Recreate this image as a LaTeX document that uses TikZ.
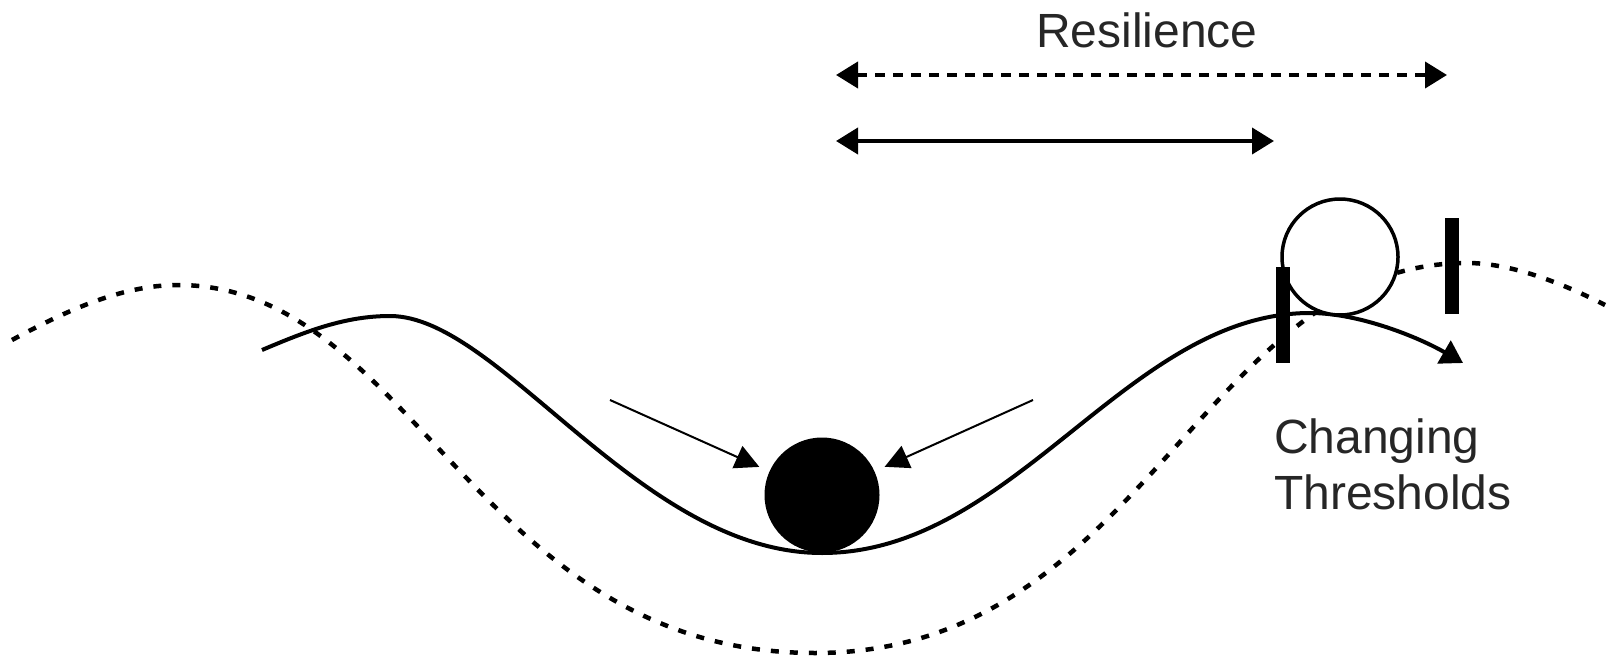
\documentclass[tikz,border=0pt]{standalone}
\usepackage{fontspec}
\setmainfont{Liberation Sans}
\usetikzlibrary{arrows.meta}
\begin{document}
\begin{tikzpicture}[x=1pt,y=-1pt,
  dotline/.style={line width=4.5pt, dash pattern=on 8pt off 11pt, line cap=butt},
  mainline/.style={line width=4pt},
  bigtip/.style={-{Triangle[length=22pt,width=26pt]}},
  bothtip/.style={{Triangle[length=22pt,width=26pt]}-{Triangle[length=22pt,width=26pt]}},
  pushtip/.style={-{Triangle[length=24pt,width=24pt]}},
  bar/.style={rectangle, fill=black, minimum width=14pt, minimum height=96pt, inner sep=0pt},
  lbl/.style={font=\fontsize{48}{52}\selectfont, inner sep=0pt, text=black!85}
]
\useasboundingbox (0,0) rectangle (1615,661);

% dotted (changed) landscape
\draw[dotline] (12,340)
  .. controls (62,313) and (120,285) .. (178,285)
  .. controls (413,285) and (477,653) .. (815,653)
  .. controls (1145,653) and (1202,263) .. (1467,263)
  .. controls (1510,263) and (1560,282) .. (1605,305);

% solid landscape with arrow
\draw[mainline, bigtip] (262,350)
  .. controls (307,331) and (345,316) .. (390,316)
  .. controls (500,316) and (640,553) .. (822,553)
  .. controls (1015,553) and (1127,313) .. (1310,313)
  .. controls (1360,313) and (1420,338) .. (1463,363);

% ball states
\node[circle, draw=black, fill=white, line width=3.5pt, minimum size=116pt, inner sep=0pt] (ring) at (1340,257) {};
\node[circle, fill=black, minimum size=115pt, inner sep=0pt] (ball) at (822,495) {};

% thresholds
\node[bar] (bar1) at (1283,315) {};
\node[bar] (bar2) at (1452,266) {};

% forces towards the ball
\coordinate (pl) at (610,400);
\coordinate (pr) at (1033,400);
\draw[line width=2pt, pushtip, shorten >=11pt] (pl) -- (ball);
\draw[line width=2pt, pushtip, shorten >=11pt] (pr) -- (ball);

% resilience arrows
\coordinate (ra) at (836,75);
\coordinate (rb) at (1447,75);
\coordinate (sa) at (836,141);
\coordinate (sb) at (1274,141);
\draw[line width=4pt, dash pattern=on 10pt off 8pt, bothtip] (ra) -- (rb);
\draw[line width=4pt, bothtip] (sa) -- (sb);

% labels
\node[lbl, anchor=base] (res) at (1147,48) {Resilience};
\node[lbl, anchor=base west] (ch) at (1274,453) {Changing};
\node[lbl, anchor=base west] (th) at (1274,509) {Thresholds};
\end{tikzpicture}
\end{document}
